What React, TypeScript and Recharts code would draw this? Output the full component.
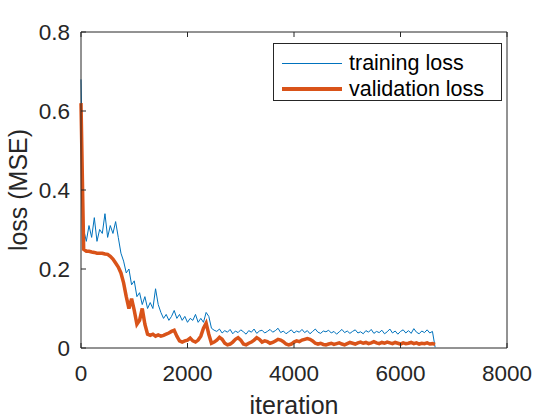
import { LineChart, Line, XAxis, YAxis } from 'recharts'

const STEP = 50 // iterations between logged points

const trainLoss = [
  0.68, 0.30, 0.27, 0.31, 0.28, 0.33, 0.27, 0.30, 0.29, 0.34,
  0.28, 0.31, 0.29, 0.32, 0.28, 0.24, 0.22, 0.19, 0.20, 0.16,
  0.17, 0.13, 0.14, 0.11, 0.13, 0.10, 0.115, 0.10, 0.15, 0.11,
  0.09, 0.075, 0.085, 0.07, 0.08, 0.095, 0.075, 0.085, 0.07, 0.08,
  0.065, 0.075, 0.07, 0.085, 0.065, 0.075, 0.065, 0.09, 0.08, 0.05,
  0.045, 0.042, 0.048, 0.038, 0.044, 0.040, 0.047, 0.036, 0.043, 0.039,
  0.046, 0.041, 0.035, 0.044, 0.040, 0.048, 0.037, 0.043, 0.045, 0.038,
  0.042, 0.047, 0.040, 0.044, 0.050, 0.039, 0.043, 0.036, 0.041, 0.046,
  0.038, 0.043, 0.040, 0.047, 0.039, 0.044, 0.036, 0.042, 0.048, 0.040,
  0.037, 0.043, 0.041, 0.045, 0.038, 0.042, 0.035, 0.041, 0.047, 0.039,
  0.043, 0.037, 0.042, 0.046, 0.038, 0.041, 0.036, 0.044, 0.040, 0.047,
  0.037, 0.042, 0.039, 0.045, 0.036, 0.041, 0.048, 0.038, 0.043, 0.035,
  0.042, 0.046, 0.038, 0.044, 0.037, 0.049, 0.040, 0.036, 0.043, 0.039,
  0.046, 0.038, 0.042, 0.002,
]

const valLoss = [
  0.62, 0.25, 0.245, 0.245, 0.243, 0.242, 0.24, 0.24, 0.24, 0.238,
  0.237, 0.232, 0.225, 0.215, 0.205, 0.19, 0.165, 0.13, 0.10, 0.125,
  0.095, 0.06, 0.07, 0.10, 0.06, 0.035, 0.032, 0.035, 0.03, 0.033,
  0.03, 0.032, 0.035, 0.038, 0.042, 0.045, 0.03, 0.018, 0.015, 0.018,
  0.02, 0.025, 0.018, 0.015, 0.02, 0.03, 0.05, 0.063, 0.035, 0.012,
  0.015, 0.02, 0.027, 0.022, 0.012, 0.008, 0.01, 0.015, 0.022, 0.026,
  0.02, 0.01, 0.008, 0.012, 0.015, 0.02, 0.026, 0.022, 0.015, 0.018,
  0.016, 0.012, 0.014, 0.018, 0.022, 0.02, 0.016, 0.01, 0.008, 0.01,
  0.015, 0.018, 0.016, 0.02, 0.022, 0.024, 0.022, 0.018, 0.012, 0.01,
  0.012, 0.009, 0.008, 0.010, 0.012, 0.009, 0.011, 0.013, 0.010, 0.008,
  0.011, 0.014, 0.012, 0.010, 0.013, 0.015, 0.012, 0.014, 0.011, 0.013,
  0.016, 0.013, 0.011, 0.014, 0.012, 0.015, 0.013, 0.011, 0.014, 0.012,
  0.010, 0.013, 0.011, 0.012, 0.014, 0.011, 0.013, 0.010, 0.012, 0.011,
  0.013, 0.010, 0.011, 0.009,
]

const xTicks = [0, 2000, 4000, 6000, 8000]
const yTicks = [0, 0.2, 0.4, 0.6, 0.8]

const BLUE = '#0072BD'
const ORANGE = '#D95319'
const INK = '#262626'
const FONT = '"Liberation Sans", Arial, Helvetica, sans-serif'

const data = trainLoss.map((t, i) => ({ iter: i * STEP, train: t, val: valLoss[i] }))

const tickStyle = { fill: INK, fontSize: 22.5, fontFamily: FONT }
const noLabel = () => <g />

function YTitle() {
  return (
    <text
      x={27}
      y={190}
      transform="rotate(-90, 27, 190)"
      textAnchor="middle"
      fill={INK}
      fontSize={25}
      fontFamily={FONT}
    >
      loss (MSE)
    </text>
  )
}

function XTitle() {
  return (
    <text x={294} y={414} textAnchor="middle" fill={INK} fontSize={25} fontFamily={FONT}>
      iteration
    </text>
  )
}

export default function App() {
  return (
    <div style={{ position: 'absolute', left: 0, top: 0, width: 560, height: 420, background: '#fff' }}>
      <LineChart width={560} height={420} data={data} margin={{ top: 0, right: 0, bottom: 0, left: 0 }}>
        <XAxis
          dataKey="iter"
          type="number"
          domain={[0, 8000]}
          ticks={xTicks}
          height={72}
          stroke={INK}
          tick={tickStyle}
          tickSize={-5}
          tickMargin={22}
          label={<XTitle />}
        />
        <XAxis
          xAxisId="top"
          orientation="top"
          dataKey="iter"
          type="number"
          domain={[0, 8000]}
          ticks={xTicks}
          height={32}
          stroke={INK}
          tick={noLabel}
          tickSize={-5}
        />
        <YAxis
          type="number"
          domain={[0, 0.8]}
          ticks={yTicks}
          width={81}
          stroke={INK}
          tick={tickStyle}
          tickSize={-5}
          tickMargin={16}
          tickFormatter={(v: number) => (v === 0 ? '0' : String(v))}
          label={<YTitle />}
        />
        <YAxis
          yAxisId="right"
          orientation="right"
          type="number"
          domain={[0, 0.8]}
          ticks={yTicks}
          width={53}
          stroke={INK}
          tick={noLabel}
          tickSize={-5}
        />
        <Line dataKey="train" stroke={BLUE} strokeWidth={1} dot={false} type="linear" isAnimationActive={false} />
        <Line dataKey="val" stroke={ORANGE} strokeWidth={3.5} dot={false} type="linear" isAnimationActive={false} />
      </LineChart>

      <div
        style={{
          position: 'absolute',
          left: 273,
          top: 43,
          width: 229,
          height: 58,
          boxSizing: 'border-box',
          border: `1px solid ${INK}`,
          background: '#fff',
          fontFamily: FONT,
          fontSize: 21.5,
          color: '#000',
        }}
      >
        {[
          { name: 'training loss', color: BLUE, w: 1 },
          { name: 'validation loss', color: ORANGE, w: 3.5 },
        ].map((d, i) => (
          <div
            key={d.name}
            style={{ position: 'absolute', left: 8, top: 6 + i * 26, height: 26, display: 'flex', alignItems: 'center' }}
          >
            <span style={{ display: 'inline-block', width: 60, height: d.w, background: d.color, marginRight: 7 }} />
            <span style={{ lineHeight: '26px', whiteSpace: 'nowrap' }}>{d.name}</span>
          </div>
        ))}
      </div>
    </div>
  )
}
